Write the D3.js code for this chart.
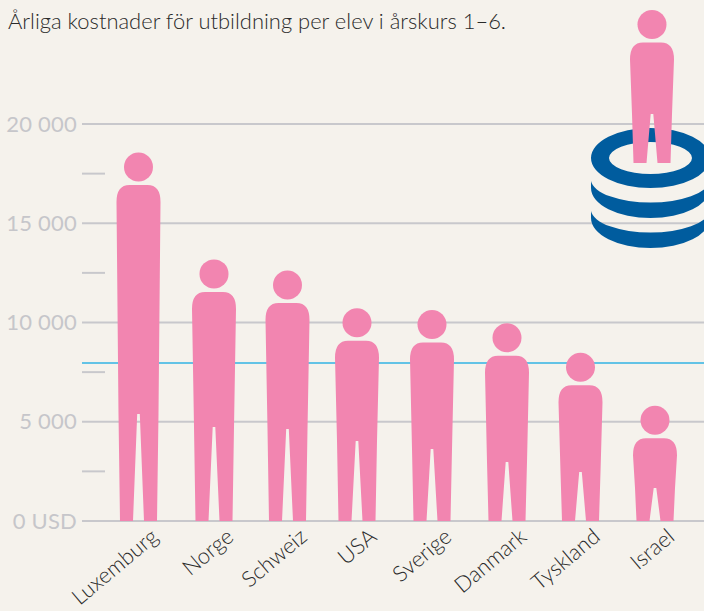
<!DOCTYPE html>
<html><head><meta charset="utf-8">
<script src="https://cdn.jsdelivr.net/npm/d3@7"></script>
<style>html,body{margin:0;padding:0;background:#f5f2ec}svg{display:block}</style>
</head><body><svg id="c" width="704" height="611"></svg>
<script>
const countries = ["Luxemburg","Norge","Schweiz","USA","Sverige","Danmark","Tyskland","Israel"];
const costs = [18560,13180,12620,10720,10630,9960,8470,5800];
const crotch = [5390,4730,4630,4030,3630,2970,2470,1660];
const average = 7960;
const majorTicks = [0,5000,10000,15000,20000];
const minorTicks = [2500,7500,12500,17500];
const tickLabels = ["0 USD","5 000","10 000","15 000","20 000"];
const title = "Årliga kostnader för utbildning per elev i årskurs 1–6.";

const svg = d3.select("#c");
const y = d3.scaleLinear().domain([0,20000]).range([521,124]);
const x = d3.scaleOrdinal().domain(countries).range([138.5,214,287.5,357,432,507,580.5,655]);
const fontFam = "Lato, 'Open Sans', sans-serif";
const grey = "#c8c8cc", pink = "#f285b0", blue = "#005c9e";

svg.append("text").attr("x",8).attr("y",29).attr("font-family",fontFam).attr("font-weight",300)
  .attr("font-size",21).attr("textLength",498).attr("lengthAdjust","spacingAndGlyphs")
  .attr("fill","#2a2a2a").text(title);

const axis = svg.append("g");
axis.selectAll(".maj").data(majorTicks).join("line").attr("x1",82).attr("x2",704)
  .attr("y1",d=>y(d)).attr("y2",d=>y(d)).attr("stroke",grey).attr("stroke-width",2);
axis.selectAll(".min").data(minorTicks).join("line").attr("x1",82).attr("x2",105)
  .attr("y1",d=>y(d)).attr("y2",d=>y(d)).attr("stroke",grey).attr("stroke-width",2);
axis.selectAll("text").data(majorTicks).join("text").attr("x",77).attr("y",d=>y(d)+7.5)
  .attr("text-anchor","end").attr("font-family",fontFam).attr("font-weight",400).attr("font-size",22)
  .attr("letter-spacing",0.2).attr("fill","#c6c6ca").text((d,i)=>tickLabels[i]);
svg.append("line").attr("x1",82).attr("x2",704).attr("y1",y(average)).attr("y2",y(average))
  .attr("stroke","#62c3e6").attr("stroke-width",1.8);

function bodyPath(cx, top, cr, bot){
  const r=13;
  const p=d3.path();
  p.moveTo(cx-1.3,cr);
  p.lineTo(cx-5.5,bot); p.lineTo(cx-18.5,bot); p.lineTo(cx-20,cr);
  p.lineTo(cx-22,top+r+4); p.quadraticCurveTo(cx-22,top,cx-22+r,top);
  p.lineTo(cx+22-r,top); p.quadraticCurveTo(cx+22,top,cx+22,top+r+4);
  p.lineTo(cx+20,cr); p.lineTo(cx+18.5,bot); p.lineTo(cx+5.5,bot); p.lineTo(cx+1.3,cr);
  p.closePath();
  return p.toString();
}
function person(g,cx,topY,crY,botY){
  g.append("circle").attr("cx",cx).attr("cy",topY+14.5).attr("r",14.5).attr("fill",pink);
  g.append("path").attr("d",bodyPath(cx,topY+32.5,crY,botY)).attr("fill",pink);
}
const people = svg.append("g");
countries.forEach((c,i)=>person(people,x(c),y(costs[i]),y(crotch[i]),y(0)));

const labels = svg.append("g");
labels.selectAll("text").data(countries).join("text")
  .attr("transform",d=>`translate(${x(d)+21},${539}) rotate(-40)`)
  .attr("text-anchor","end").attr("font-family",fontFam).attr("font-weight",300)
  .attr("font-size",22).attr("fill","#2a2a2a").text(d=>d);

// decorative icon: coin stack with figure
const icon = svg.append("g");
const cx=650.5;
icon.append("path").attr("fill-rule","evenodd").attr("fill",blue)
  .attr("d",`M${cx-59.5},158a59.5,30 0 1,0 119,0a59.5,30 0 1,0 -119,0Z M${cx-41.5},158a41.5,16 0 1,0 83,0a41.5,16 0 1,0 -83,0Z`);
[0,30].forEach(dy=>{
  icon.append("path").attr("fill",blue)
   .attr("d",`M${cx-59.5},${181+dy}L${cx-59.5},${188+dy}A59.5,30 0 0,0 ${cx+59.5},${188+dy}L${cx+59.5},${181+dy}A59.7,23.5 0 0,1 ${cx-59.5},${181+dy}Z`);
});
person(icon,652,10,114,163);
</script></body></html>
